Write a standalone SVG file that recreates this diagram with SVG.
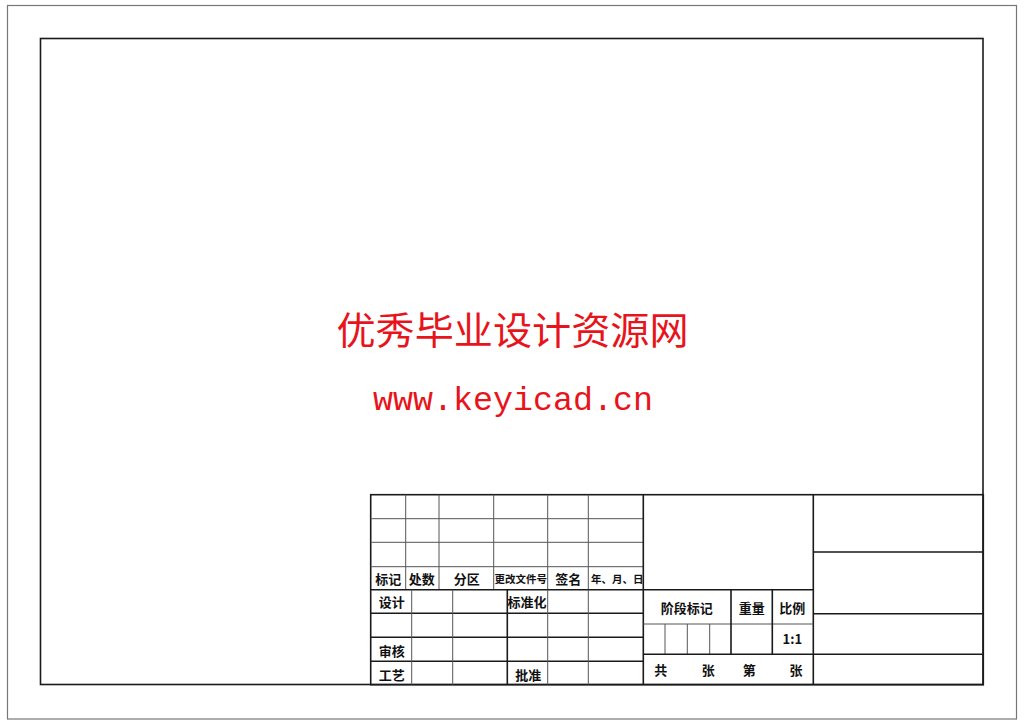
<svg xmlns="http://www.w3.org/2000/svg" width="1024" height="724" viewBox="0 0 1024 724">
<style>
.thk{stroke:#1a1a1a;stroke-width:1.6;fill:none}
.thn{stroke:#555;stroke-width:1;fill:none}
.lbl{font-family:"Noto Sans CJK SC","Noto Sans",sans-serif;font-weight:bold;font-size:13px;fill:#111;text-anchor:middle}
.sm{font-size:10.5px}
.red{fill:#e8141b;text-anchor:middle}
</style>
<rect width="1024" height="724" fill="#fff"/>
<g id="frames">
<rect x="7.5" y="5.5" width="1009" height="713.5" fill="none" stroke="#777" stroke-width="1.2"/>
<rect x="40.5" y="38.5" width="942.5" height="646" class="thk"/>
</g>
<g id="watermark">
<text x="512.5" y="344" class="red" font-family="Noto Sans CJK SC,sans-serif" font-size="38" textLength="352" lengthAdjust="spacingAndGlyphs">优秀毕业设计资源网</text>
<text x="513" y="410" class="red" font-family="Liberation Mono,monospace" font-size="33" textLength="280" lengthAdjust="spacingAndGlyphs">www.keyicad.cn</text>
</g>
<g id="titleblock">
<rect x="370.7" y="494.7" width="612.6" height="190" class="thk"/>
<path class="thn" d="M370.7 518.7H643.3M370.7 542.3H643.3M370.7 566.7H643.3"/>
<path class="thn" d="M405.7 494.7V589.7M439 494.7V589.7M493.7 494.7V589.7M547.7 494.7V589.7M588.3 494.7V589.7"/>
<path class="thk" d="M370.7 589.7H813.3"/>
<path class="thk" d="M370.7 613.3H643.3M370.7 637.3H643.3M370.7 661.3H643.3M507.3 589.7V684.7"/>
<path class="thn" d="M411.7 589.7V684.7M452.7 589.7V684.7M547.7 589.7V684.7M588.3 589.7V684.7"/>
<path class="thk" d="M643.3 494.7V684.7M813.3 494.7V684.7"/>
<path class="thn" d="M643.3 624H813.3M665 624V654.3M687.3 624V654.3M709.7 624V654.3"/>
<path class="thk" d="M643.3 654.3H983.3M731 589.7V654.3M772.3 589.7V654.3"/>
<path class="thk" d="M813.3 552H983.3M813.3 613.7H983.3"/>
</g>
<g id="labels">
<text class="lbl" x="388.3" y="583.5">标记</text>
<text class="lbl" x="421.7" y="583.5">处数</text>
<text class="lbl" x="466.7" y="583.5">分区</text>
<text class="lbl sm" x="520.7" y="583">更改文件号</text>
<text class="lbl" x="568.3" y="583.5">签名</text>
<text class="lbl sm" x="591" y="583" style="text-anchor:start">年、月、日</text>
<text class="lbl" x="391.7" y="607">设计</text>
<text class="lbl" x="527" y="607">标准化</text>
<text class="lbl" x="391.7" y="655.5">审核</text>
<text class="lbl" x="391.7" y="679.5">工艺</text>
<text class="lbl" x="528.3" y="679.5">批准</text>
<text class="lbl" x="686.7" y="612.5">阶段标记</text>
<text class="lbl" x="751.7" y="612.5">重量</text>
<text class="lbl" x="792.3" y="612.5">比例</text>
<text class="lbl" x="792.3" y="644" font-family="Liberation Serif,serif">1:1</text>
<text class="lbl" x="660.7" y="674.5">共</text>
<text class="lbl" x="708.3" y="674.5">张</text>
<text class="lbl" x="749.3" y="674.5">第</text>
<text class="lbl" x="796" y="674.5">张</text>
</g>
</svg>
